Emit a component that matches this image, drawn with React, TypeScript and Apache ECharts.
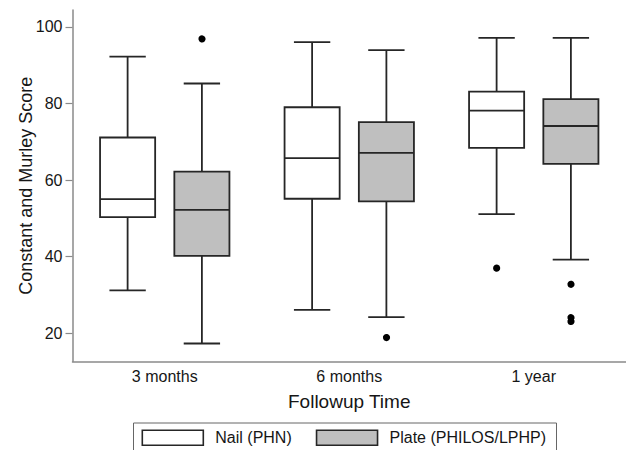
import React, { useEffect, useRef } from "react";
import * as echarts from "echarts";

const categories = ["3 months", "6 months", "1 year"];
const yTicks = [20, 40, 60, 80, 100];
// [min, Q1, median, Q3, max] per category
const nailStats = [
  [31.2, 50.3, 55.0, 71.1, 92.2],
  [26.1, 55.1, 65.7, 79.0, 96.0],
  [51.1, 68.4, 78.1, 83.1, 97.1],
];
const plateStats = [
  [17.3, 40.2, 52.2, 62.2, 85.2],
  [24.2, 54.4, 67.1, 75.1, 93.9],
  [39.2, 64.2, 74.1, 81.1, 97.1],
];
// [category index, value]
const nailOutliers = [[2, 37.1]];
const plateOutliers = [
  [0, 97.1],
  [1, 19.1],
  [2, 33.0],
  [2, 24.3],
  [2, 23.3],
];

const NAIL = "Nail (PHN)";
const PLATE = "Plate (PHILOS/LPHP)";
const FONT = "'Liberation Sans', Arial, Helvetica, sans-serif";
const LINE = "#262626";
const GRAY_FILL = "#bfbfbf";
const AXIS = "#8a8a8a";
const TEXT = "#161616";

const OFFSET = 0.2013;
const BOX_W = 0.2986;
const CAP_W = 0.197;

function boxRenderer(sign: number, fill: string) {
  return (_params: any, api: any) => {
    const cat = api.value(0);
    const band = api.size([1, 0])[0];
    const cx = api.coord([cat, 50])[0] + sign * OFFSET * band;
    const y = (i: number) => api.coord([cat, api.value(i)])[1];
    const yMin = y(1), yQ1 = y(2), yMed = y(3), yQ3 = y(4), yMax = y(5);
    const bw = BOX_W * band;
    const cw = CAP_W * band;
    const st = { stroke: LINE, lineWidth: 1.8, fill: "none" };
    return {
      type: "group",
      children: [
        { type: "line", shape: { x1: cx, y1: yMax, x2: cx, y2: yQ3 }, style: st },
        { type: "line", shape: { x1: cx, y1: yQ1, x2: cx, y2: yMin }, style: st },
        { type: "line", shape: { x1: cx - cw / 2, y1: yMax, x2: cx + cw / 2, y2: yMax }, style: st },
        { type: "line", shape: { x1: cx - cw / 2, y1: yMin, x2: cx + cw / 2, y2: yMin }, style: st },
        {
          type: "rect",
          shape: { x: cx - bw / 2, y: yQ3, width: bw, height: yQ1 - yQ3 },
          style: { stroke: LINE, lineWidth: 1.8, fill },
        },
        { type: "line", shape: { x1: cx - bw / 2, y1: yMed, x2: cx + bw / 2, y2: yMed }, style: st },
      ],
    };
  };
}

function outlierRenderer(sign: number) {
  return (_params: any, api: any) => {
    const cat = api.value(0);
    const band = api.size([1, 0])[0];
    const p = api.coord([cat, api.value(1)]);
    return {
      type: "circle",
      shape: { cx: p[0] + sign * OFFSET * band, cy: p[1], r: 3.6 },
      style: { fill: "#000" },
    };
  };
}

export default function App() {
  const ref = useRef<HTMLDivElement>(null);
  useEffect(() => {
    if (!ref.current) return;
    const chart = echarts.init(ref.current, null, { renderer: "svg" });
    const nailData = nailStats.map((s, i) => [i, ...s]);
    const plateData = plateStats.map((s, i) => [i, ...s]);
    chart.setOption({
      animation: false,
      backgroundColor: "#fff",
      textStyle: { fontFamily: FONT },
      grid: { left: 72.5, top: 10, width: 558.8, height: 351.5 },
      graphic: [
        { type: "line", silent: true, shape: { x1: 133.5, y1: 423, x2: 556.5, y2: 423 }, style: { stroke: "#666", lineWidth: 1 } },
        { type: "line", silent: true, shape: { x1: 133.5, y1: 423, x2: 133.5, y2: 450 }, style: { stroke: "#666", lineWidth: 1 } },
        { type: "line", silent: true, shape: { x1: 556.5, y1: 423, x2: 556.5, y2: 450 }, style: { stroke: "#666", lineWidth: 1 } },
      ],
      legend: {
        left: 133.5,
        top: 423,
        orient: "horizontal",
        padding: [6.5, 3.5, 6, 8],
        itemWidth: 61,
        itemHeight: 15,
        itemGap: 24,
        selectedMode: false,
        textStyle: { fontSize: 16, color: TEXT, fontFamily: FONT, padding: [0, 0, 0, 7] },
        data: [
          { name: NAIL, icon: "rect", itemStyle: { color: "#fff", borderColor: LINE, borderWidth: 1.6 } },
          { name: PLATE, icon: "rect", itemStyle: { color: GRAY_FILL, borderColor: LINE, borderWidth: 1.6 } },
        ],
      },
      xAxis: {
        type: "category",
        data: categories,
        boundaryGap: true,
        axisLine: { show: true, lineStyle: { color: AXIS, width: 1.5 } },
        axisTick: { show: false },
        splitLine: { show: false },
        axisLabel: { fontSize: 16, color: TEXT, margin: 7, fontFamily: FONT },
        name: "Followup Time",
        nameLocation: "middle",
        nameGap: 30,
        nameMoveOverlap: false,
        nameTextStyle: { fontSize: 19, color: TEXT, fontFamily: FONT },
      },
      yAxis: {
        type: "value",
        min: 12.6,
        max: 104.4,
        axisLine: { show: true, lineStyle: { color: AXIS, width: 1.5 } },
        axisTick: { show: true, length: 7, customValues: yTicks, lineStyle: { color: AXIS, width: 1.2 } },
        splitLine: { show: false },
        axisLabel: { fontSize: 16, color: TEXT, margin: 10, customValues: yTicks, fontFamily: FONT },
        name: "Constant and Murley Score",
        nameLocation: "middle",
        nameGap: 38,
        nameMoveOverlap: false,
        nameRotate: 90,
        nameTextStyle: { fontSize: 18, color: TEXT, fontFamily: FONT },
      },
      series: [
        {
          name: NAIL,
          type: "custom",
          renderItem: boxRenderer(-1, "#fff"),
          data: nailData,
          encode: { x: 0, y: [1, 2, 3, 4, 5] },
          itemStyle: { color: "#fff" },
        },
        {
          name: PLATE,
          type: "custom",
          renderItem: boxRenderer(1, GRAY_FILL),
          data: plateData,
          encode: { x: 0, y: [1, 2, 3, 4, 5] },
          itemStyle: { color: GRAY_FILL },
        },
        {
          name: NAIL,
          type: "custom",
          renderItem: outlierRenderer(-1),
          data: nailOutliers,
          encode: { x: 0, y: 1 },
        },
        {
          name: PLATE,
          type: "custom",
          renderItem: outlierRenderer(1),
          data: plateOutliers,
          encode: { x: 0, y: 1 },
        },
      ],
    });
    return () => chart.dispose();
  }, []);
  return <div ref={ref} style={{ width: 626, height: 450, position: "absolute", left: 0, top: 0 }} />;
}
